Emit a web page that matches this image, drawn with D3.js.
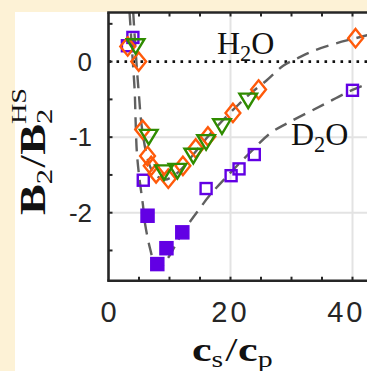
<!DOCTYPE html>
<html>
<head>
<meta charset="utf-8">
<script src="https://cdn.jsdelivr.net/npm/d3@7"></script>
<style>
  html, body { margin: 0; padding: 0; background: #fdf2d6; }
  svg { display: block; }
</style>
</head>
<body>
<svg id="chart" width="367" height="371"></svg>
<script>
// Salt-to-protein ratio vs. reduced second virial coefficient

// Open squares, D2O
const d2oOpenX = [3.1, 4.0, 5.7, 16.0, 20.1, 21.4, 23.9, 40.0];
const d2oOpenY = [0.21, 0.32, -1.57, -1.68, -1.51, -1.42, -1.23, -0.38];

// Filled squares, D2O
const d2oFilledX = [6.4, 8.0, 9.5, 12.1];
const d2oFilledY = [-2.04, -2.68, -2.47, -2.26];

// Diamonds, H2O
const h2oDiamondX = [3.15, 4.95, 5.6, 6.4, 7.0, 7.8, 9.8, 12.2, 14.3, 16.3, 20.4, 24.6, 40.5];
const h2oDiamondY = [0.2, 0.0, -0.9, -1.25, -1.38, -1.48, -1.55, -1.38, -1.15, -0.99, -0.68, -0.37, 0.31];

// Down-triangles, H2O
const h2oTriX = [4.45, 6.6, 9.1, 11.3, 13.9, 16.0, 18.6, 22.9];
const h2oTriY = [0.2, -1.0, -1.47, -1.45, -1.25, -1.07, -0.86, -0.52];

// Model curves
const h2oFitX = [4.05, 4.4, 4.75, 5.0, 5.3, 5.7, 6.3, 7.0, 8.0, 9.3, 10.5, 12, 14, 16, 18, 20.4, 23, 25.9, 28.7, 30.9, 33.5, 36.8, 40.5, 44];
const h2oFitY = [0.65, 0.2, -0.2, -0.45, -0.75, -1.0, -1.25, -1.42, -1.52, -1.56, -1.52, -1.42, -1.22, -1.02, -0.84, -0.64, -0.44, -0.25, -0.05, 0.04, 0.14, 0.23, 0.31, 0.38];
const d2oFitX = [3.45, 3.9, 4.3, 4.45, 4.65, 5.0, 5.65, 6.0, 6.8, 7.6, 8.3, 9.75, 12, 15, 16.6, 20, 23, 26.5, 29.2, 35, 40.1, 44];
const d2oFitY = [0.65, 0.1, -0.4, -0.8, -1.2, -1.5, -1.9, -2.15, -2.47, -2.68, -2.73, -2.6, -2.28, -1.94, -1.77, -1.47, -1.22, -0.95, -0.82, -0.58, -0.37, -0.25];

const xTickLabels = [0, 20, 40];
const yTickLabels = [0, -1, -2];

const svg = d3.select("#chart");
const W = 367, H = 371;

// White figure panel
svg.append("rect").attr("x", 15).attr("y", 12).attr("width", W - 15).attr("height", H - 12).attr("fill", "#ffffff");

const pLeft = 108.5, pTop = 12.5, pBottom = 280.7;
const x = d3.scaleLinear().domain([0, 50]).range([pLeft, pLeft + 50 * 6.1]);
const y = d3.scaleLinear().domain([-2.9, 0.65]).range([pBottom, pTop]);

const plotW = x(50) - pLeft;
svg.append("defs").append("clipPath").attr("id", "plotclip")
  .append("rect").attr("x", pLeft).attr("y", pTop).attr("width", plotW).attr("height", pBottom - pTop);

const plot = svg.append("g");

// Grid
const grid = plot.append("g").attr("stroke", "#e3e3e3").attr("stroke-width", 2);
[20, 40].forEach(v => grid.append("line").attr("x1", x(v)).attr("x2", x(v)).attr("y1", pTop).attr("y2", pBottom));
[-1, -2].forEach(v => grid.append("line").attr("x1", pLeft).attr("x2", x(50)).attr("y1", y(v)).attr("y2", y(v)));

// Zero reference
plot.append("line").attr("x1", pLeft).attr("x2", x(50)).attr("y1", y(0)).attr("y2", y(0))
  .attr("stroke", "#111").attr("stroke-width", 2.6).attr("stroke-dasharray", "2.6,5.4");

// Model curves
const line = (xs, ys) => d3.line().x((d, i) => x(xs[i])).y((d, i) => y(ys[i])).curve(d3.curveCatmullRom.alpha(0.5))(xs);
const curves = plot.append("g").attr("clip-path", "url(#plotclip)");
[[h2oFitX, h2oFitY], [d2oFitX, d2oFitY]].forEach(([xs, ys]) => {
  curves.append("path").attr("d", line(xs, ys)).attr("fill", "none")
    .attr("stroke", "#606060").attr("stroke-width", 2.4).attr("stroke-dasharray", "13,8");
});

// Labels inside the plot
const serif = "'Liberation Serif', 'DejaVu Serif', serif";
function formula(g, px, py, main, sub, tail, size) {
  const t = g.append("text").attr("x", px).attr("y", py).attr("font-family", serif)
    .attr("font-size", size).attr("fill", "#111");
  t.append("tspan").text(main);
  t.append("tspan").attr("font-size", size * 0.7).attr("dy", size * 0.22).text(sub);
  t.append("tspan").attr("dy", -size * 0.22).text(tail);
}
formula(plot, 217, 54, "H", "2", "O", 32);
formula(plot, 291, 145, "D", "2", "O", 32);

// Markers
const purple = "#6200e4", orange = "#ff5a0a", green = "#2f8c00";
const marks = plot.append("g").attr("clip-path", "url(#plotclip)");
const sq = 11;
marks.selectAll(".open").data(d2oOpenX).join("rect")
  .attr("x", (d, i) => x(d) - sq / 2).attr("y", (d, i) => y(d2oOpenY[i]) - sq / 2)
  .attr("width", sq).attr("height", sq).attr("fill", "#fff").attr("fill-opacity", 0)
  .attr("stroke", purple).attr("stroke-width", 2.4);
marks.selectAll(".filled").data(d2oFilledX).join("rect")
  .attr("x", (d, i) => x(d) - 6.5).attr("y", (d, i) => y(d2oFilledY[i]) - 6.5)
  .attr("width", 13).attr("height", 13).attr("fill", purple)
  .attr("stroke", purple).attr("stroke-width", 1.5);
const dw = 7.4, dh = 9.2;
marks.selectAll(".dia").data(h2oDiamondX).join("path")
  .attr("d", (d, i) => {
    const cx = x(d), cy = y(h2oDiamondY[i]);
    return `M${cx},${cy - dh}L${cx + dw},${cy}L${cx},${cy + dh}L${cx - dw},${cy}Z`;
  })
  .attr("fill", "none").attr("stroke", orange).attr("stroke-width", 2.4).attr("stroke-linejoin", "miter");
const tw = 8.8, th = 7.3;
marks.selectAll(".tri").data(h2oTriX).join("path")
  .attr("d", (d, i) => {
    const cx = x(d), cy = y(h2oTriY[i]);
    return `M${cx - tw},${cy - th}L${cx + tw},${cy - th}L${cx},${cy + th}Z`;
  })
  .attr("fill", "none").attr("stroke", green).attr("stroke-width", 2.4).attr("stroke-linejoin", "miter");

// Axes frame and ticks
const axisColor = "#262626";
const frame = svg.append("g").attr("stroke", axisColor);
frame.append("line").attr("x1", pLeft).attr("x2", pLeft).attr("y1", pTop).attr("y2", pBottom).attr("stroke-width", 2.6);
frame.append("line").attr("x1", pLeft - 1.3).attr("x2", W).attr("y1", pBottom).attr("y2", pBottom).attr("stroke-width", 2.6);
frame.append("line").attr("x1", pLeft - 1.3).attr("x2", W).attr("y1", pTop).attr("y2", pTop).attr("stroke-width", 2.6);

const xMinor = d3.range(5, 50, 5);
xMinor.forEach(v => {
  frame.append("line").attr("x1", x(v)).attr("x2", x(v)).attr("y1", pBottom).attr("y2", pBottom - 4).attr("stroke-width", 2);
  frame.append("line").attr("x1", x(v)).attr("x2", x(v)).attr("y1", pTop).attr("y2", pTop + 4).attr("stroke-width", 2);
});
const yMinor = [0.5, 0, -0.5, -1, -1.5, -2, -2.5];
yMinor.forEach(v => {
  frame.append("line").attr("x1", pLeft).attr("x2", pLeft + 4).attr("y1", y(v)).attr("y2", y(v)).attr("stroke-width", 2);
});

// Tick labels (the last one sits flush against the right edge)
const sans = "'Liberation Sans', Arial, sans-serif";
svg.append("g").selectAll("text").data(xTickLabels).join("text")
  .attr("x", d => d === 40 ? 365.5 : x(d)).attr("y", 322)
  .attr("text-anchor", d => d === 40 ? "end" : "middle")
  .attr("font-family", sans).attr("font-size", 29).attr("fill", axisColor)
  .attr("letter-spacing", d => d === 0 ? 0 : 3)
  .text(d => d);
svg.append("g").selectAll("text").data(yTickLabels).join("text")
  .attr("x", 92).attr("y", d => y(d) + 9.3).attr("text-anchor", "end")
  .attr("font-family", sans).attr("font-size", 26).attr("fill", axisColor)
  .text(d => d);

// Axis titles
const xt = svg.append("text").attr("transform", "translate(192,361) scale(1.3,1)")
  .attr("font-family", serif).attr("font-size", 34).attr("fill", "#111");
xt.append("tspan").attr("font-weight", "bold").text("c");
xt.append("tspan").attr("font-size", 23).attr("dy", 6).text("s");
xt.append("tspan").attr("dy", -6).attr("dx", 1.5).text("/");
xt.append("tspan").attr("font-weight", "bold").attr("dx", 0.5).text("c");
xt.append("tspan").attr("font-size", 23).attr("dy", 6).text("p");

const yt = svg.append("text").attr("transform", "translate(45,215) rotate(-90) scale(1.28,1)")
  .attr("font-family", serif).attr("font-size", 36).attr("fill", "#111");
yt.append("tspan").attr("font-weight", "bold").text("B");
yt.append("tspan").attr("font-size", 24).attr("dy", 7).text("2");
yt.append("tspan").attr("dy", -7).attr("dx", 1).text("/");
yt.append("tspan").attr("font-weight", "bold").text("B");
yt.append("tspan").attr("font-size", 24).attr("dy", 7).text("2");
yt.append("tspan").attr("font-size", 22).attr("dx", -12).attr("dy", -26).text("HS");
</script>
</body>
</html>
